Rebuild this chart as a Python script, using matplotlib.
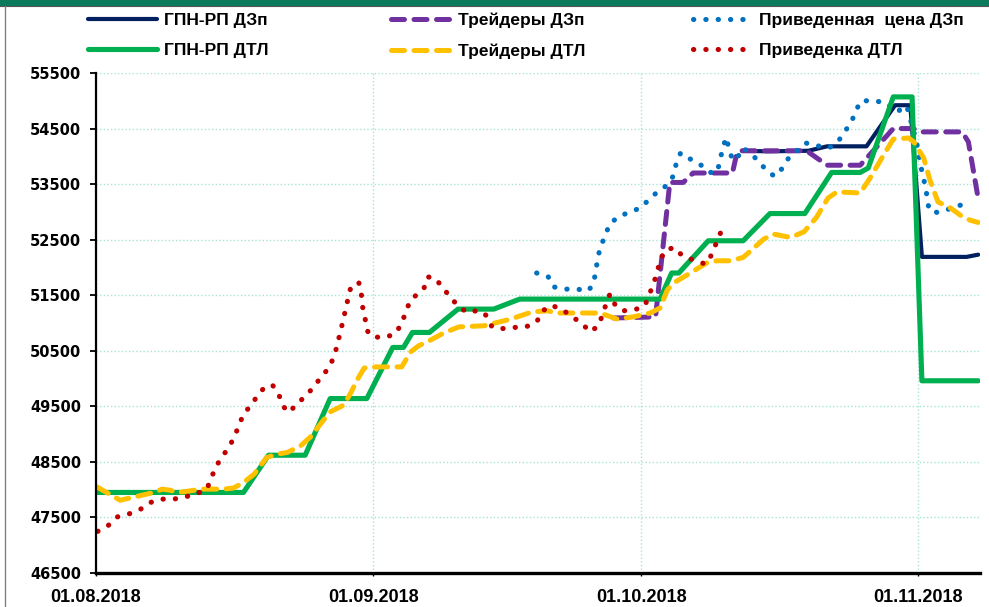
import matplotlib
matplotlib.use("Agg")
import matplotlib.pyplot as plt
from matplotlib.patches import Rectangle
from matplotlib.lines import Line2D

# x values: days since 01.08.2018
month_ticks = [0, 31, 61, 92]
month_labels = ["01.08.2018", "01.09.2018", "01.10.2018", "01.11.2018"]
y_ticks = [46500, 47500, 48500, 49500, 50500, 51500, 52500, 53500, 54500, 55500]
y_tick_labels = ["46500", "47500", "48500", "49500", "50500", "51500", "52500", "53500", "54500", "55500"]

gpn_dzp_day = [72.4, 75.2, 79.7, 81.8, 86.2, 89.4, 91.1, 92.4, 97.4, 98.7]
gpn_dzp_val = [54100, 54090, 54100, 54180, 54180, 54920, 54920, 52190, 52190, 52230]

traders_dzp_day = [57.9, 62.6, 64.2, 65.7, 66.8, 71.2, 71.7, 72.1, 79.5, 81.8, 85.5,
                   89.2, 91.4, 92.5, 96.9, 97.6, 98.7]
traders_dzp_val = [51090, 51110, 53530, 53530, 53700, 53700, 54060, 54100, 54100, 53840, 53840,
                   54500, 54500, 54440, 54440, 54260, 53240]

price_dzp_day = [49.3, 50.6, 51.2, 52.5, 53.8, 55.1, 55.7, 55.9, 56.4, 57.0, 57.4, 58.4, 59.6,
                 60.9, 61.8, 62.8, 63.9, 64.6, 64.9, 65.4, 66.5, 67.7, 68.7, 69.5, 69.8, 70.1,
                 70.5, 70.8, 71.2, 71.7, 72.3, 73.1, 74.0, 74.9, 75.9, 76.7, 77.4, 78.4, 79.4,
                 80.7, 82.0, 83.0, 83.7, 84.5, 85.0, 85.6, 86.9, 88.3, 89.6, 90.7, 91.8, 92.2,
                 92.5, 92.8, 93.0, 93.2, 94.1, 95.4, 96.7, 97.7]
price_dzp_val = [51900, 51830, 51650, 51610, 51610, 51580, 51730, 51940, 52370, 52570, 52770,
                 52910, 52990, 53070, 53210, 53360, 53480, 53650, 53860, 54060, 53950, 53840,
                 53710, 53710, 53920, 54130, 54340, 54150, 53940, 53950, 54150, 54080, 53930,
                 53770, 53640, 53770, 53950, 54100, 54240, 54190, 54150, 54260, 54430, 54610,
                 54820, 55000, 55000, 54970, 54800, 54910, 54260, 53880, 53660, 53450, 53250,
                 53030, 52990, 53050, 53120, 53080]

gpn_dtl_day = [0, 16.5, 19.3, 23.4, 26.2, 30.3, 33.2, 34.4, 35.4, 37.3, 40.5, 44.5, 47.4,
               63.1, 64.4, 65.2, 68.5, 72.4, 75.4, 79.3, 82.3, 85.5, 86.4, 89.2, 91.3, 92.4, 98.7]
gpn_dtl_val = [47950, 47950, 48620, 48620, 49640, 49640, 50560, 50560, 50830, 50830, 51250,
               51250, 51430, 51430, 51900, 51900, 52480, 52480, 52970, 52970, 53710, 53710,
               53790, 55070, 55070, 49960, 49960]

traders_dtl_day = [0.1, 2.7, 6.5, 7.4, 8.3, 9.1, 10.2, 11.7, 14.3, 15.4, 16.5, 17.7, 19.1,
                   20.3, 21.4, 22.9, 24.0, 25.1, 26.2, 27.7, 28.5, 29.2, 30.0, 31.4, 34.2,
                   35.2, 36.1, 37.4, 38.9, 40.6, 43.4, 44.9, 46.4, 47.5, 48.8, 50.5, 51.6,
                   54.6, 56.4, 58.3, 60.1, 62.0, 63.1, 63.9, 64.6, 66.5, 68.3, 69.5, 71.0,
                   72.4, 73.6, 74.7, 75.8, 77.7, 79.2, 80.6, 81.9, 82.9, 85.5, 86.6, 88.1,
                   89.2, 90.9, 91.5, 92.6, 93.3, 94.2, 95.6, 96.7, 97.8, 98.7]
traders_dtl_val = [48050, 47810, 47950, 48010, 47990, 47950, 47970, 48010, 48010, 48030,
                   48130, 48280, 48580, 48640, 48670, 48790, 48950, 49180, 49400, 49520,
                   49740, 49970, 50190, 50210, 50210, 50480, 50590, 50690, 50820, 50930,
                   50950, 51010, 51070, 51130, 51200, 51220, 51180, 51180, 51180, 51070,
                   51110, 51180, 51270, 51590, 51720, 51900, 52080, 52120, 52120, 52180,
                   52350, 52510, 52600, 52540, 52640, 52900, 53250, 53360, 53340, 53610,
                   54020, 54310, 54330, 54260, 53970, 53570, 53180, 53070, 52940, 52850, 52810]

price_dtl_day = [0.2, 1.4, 2.4, 3.8, 5.0, 6.1, 7.3, 8.7, 10.0, 11.3, 12.4, 12.9, 13.4, 14.1,
                 14.9, 15.5, 16.0, 16.5, 17.4, 18.1, 19.0, 19.8, 20.5, 21.0, 21.6, 22.5, 23.5,
                 24.4, 25.2, 26.1, 26.6, 27.0, 27.3, 27.6, 27.9, 28.2, 28.5, 29.4, 29.7, 29.8,
                 30.1, 30.3, 30.9, 32.3, 33.4, 34.2, 34.6, 35.1, 35.8, 36.7, 37.1, 37.9, 38.8,
                 39.6, 40.5, 41.5, 42.9, 43.7, 44.3, 45.5, 46.8, 48.1, 49.3, 50.0, 50.9, 52.1,
                 53.2, 54.3, 55.3, 56.2, 56.7, 57.1, 57.5, 58.1, 59.0, 60.3, 61.4, 61.9, 62.4,
                 62.8, 63.1, 63.7, 64.7, 65.6, 66.9, 68.2, 68.8, 69.3, 69.8, 70.5]
price_dtl_val = [47250, 47360, 47510, 47570, 47650, 47770, 47830, 47830, 47870, 47930, 48010,
                 48210, 48410, 48590, 48770, 48960, 49160, 49360, 49530, 49700, 49870, 49870,
                 49690, 49490, 49390, 49550, 49690, 49860, 50030, 50200, 50390, 50600, 50820,
                 51010, 51230, 51440, 51640, 51730, 51500, 51310, 51090, 50870, 50750, 50740,
                 50800, 50980, 51180, 51380, 51500, 51630, 51830, 51810, 51640, 51470, 51310,
                 51190, 51230, 51130, 50930, 50900, 50920, 50930, 51020, 51220, 51320, 51250,
                 51120, 51000, 50840, 50950, 51160, 51360, 51520, 51320, 51220, 51240, 51310,
                 51510, 51720, 51920, 52130, 52310, 52360, 52210, 52130, 52060, 52210, 52400,
                 52600, 52800]

series_names = ["ГПН-РП ДЗп", "Трейдеры ДЗп", "Приведенная  цена ДЗп",
                "ГПН-РП ДТЛ", "Трейдеры ДТЛ", "Приведенка ДТЛ"]

NAVY = "#002060"
GREEN = "#00B050"
PURPLE = "#7030A0"
BLUE = "#0070C0"
YELLOW = "#FFC000"
RED = "#C00000"

W, H = 989, 607
fig = plt.figure(figsize=(W / 100, H / 100), dpi=100)
fig.patch.set_facecolor("white")
ax = fig.add_axes([96 / W, 34 / H, (980 - 96) / W, (573 - 73) / H])

dash = (0, (2.6, 1.9))
dot = (0, (0.05, 2.35))

l_navy, = ax.plot(gpn_dzp_day, gpn_dzp_val, color=NAVY, lw=3.0,
                  solid_joinstyle="round", solid_capstyle="round", zorder=3)
l_purple, = ax.plot(traders_dzp_day, traders_dzp_val, color=PURPLE, lw=3.6, ls=dash,
                    dash_capstyle="round", dash_joinstyle="round", zorder=4)
l_blue, = ax.plot(price_dzp_day, price_dzp_val, color=BLUE, lw=3.7, ls=dot,
                  dash_capstyle="round", zorder=5)
l_green, = ax.plot(gpn_dtl_day, gpn_dtl_val, color=GREEN, lw=3.7,
                   solid_joinstyle="round", solid_capstyle="round", zorder=6)
l_yellow, = ax.plot(traders_dtl_day, traders_dtl_val, color=YELLOW, lw=3.6, ls=dash,
                    dash_capstyle="round", dash_joinstyle="round", zorder=7)
l_red, = ax.plot(price_dtl_day, price_dtl_val, color=RED, lw=3.7, ls=dot,
                 dash_capstyle="round", zorder=8)

ax.set_xlim(0, 98.9)
ax.set_ylim(46500, 55500)
ax.set_yticks(y_ticks)
ax.set_yticklabels(y_tick_labels, fontfamily="DejaVu Sans", fontweight="bold", fontsize=10.5)
ax.set_xticks(month_ticks)
ax.set_xticklabels(month_labels, fontfamily="Liberation Sans", fontweight="bold", fontsize=13)
ax.tick_params(axis="y", direction="out", length=4.5, width=1.3, pad=6, colors="black")
ax.tick_params(axis="x", direction="out", length=2.5, width=1.0, pad=9, colors="black")

ax.grid(True, color="#a8e4d6", linestyle=(0, (1, 1.6)), linewidth=1.0, zorder=0)
ax.set_axisbelow(True)
for s in ("top", "right"):
    ax.spines[s].set_visible(False)
ax.spines["left"].set_linewidth(1.6)
ax.spines["bottom"].set_linewidth(2.4)
ax.spines["left"].set_zorder(9)
ax.spines["bottom"].set_zorder(9)

leg_font = {"family": "Liberation Sans", "weight": "bold", "size": 12.5}
cols = [([l_navy, l_green], [series_names[0], series_names[3]], 88, 3.95),
        ([l_purple, l_yellow], [series_names[1], series_names[4]], 391, 3.45),
        ([l_blue, l_red], [series_names[2], series_names[5]], 693, 3.4)]
for handles, labels, xpix, hl in cols:
    fig.legend(handles, labels, loc="upper left", bbox_to_anchor=(xpix / W, 1 - 13 / H),
               frameon=False, borderpad=0, borderaxespad=0, handlelength=hl,
               handletextpad=0.42, labelspacing=0.84, prop=leg_font)

# slide frame: dark green bar on top, grey border on the left
fig.patches.append(Rectangle((0, 1 - 5.5 / H), 1, 5.5 / H, transform=fig.transFigure,
                             facecolor="#0b7a5c", edgecolor="none", zorder=10))
fig.lines.append(Line2D([0, 1], [1 - 6 / H, 1 - 6 / H], transform=fig.transFigure,
                        color="#555555", lw=0.8, zorder=10))
fig.lines.append(Line2D([4.5 / W, 4.5 / W], [0, 1 - 5 / H], transform=fig.transFigure,
                        color="#808080", lw=1.0, zorder=10))

fig.savefig("out.png", dpi=100)
